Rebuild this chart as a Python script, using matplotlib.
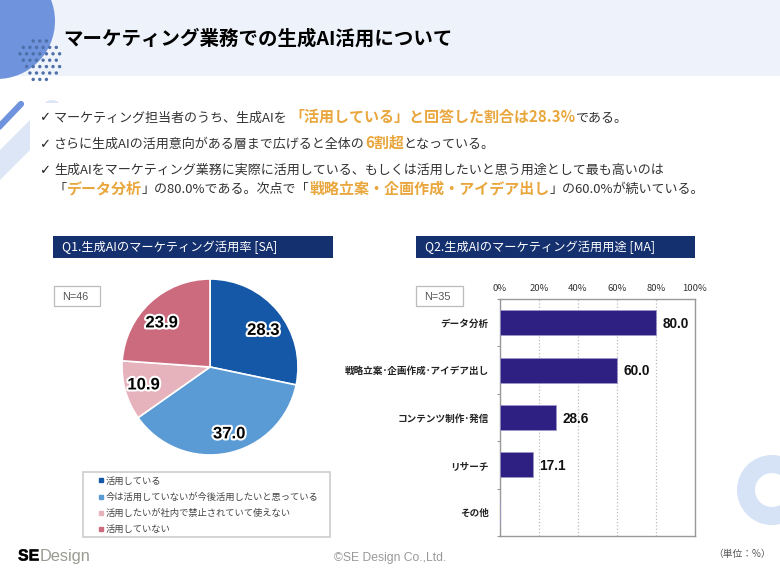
import matplotlib
matplotlib.use("Agg")
import matplotlib.pyplot as plt
import matplotlib.patheffects as pe
from matplotlib.lines import Line2D
from matplotlib.patches import Circle, Polygon, Rectangle, Wedge
import numpy as np

plt.rcParams['font.family'] = ['Noto Sans CJK JP', 'DejaVu Sans']

W, H = 780, 585
ORANGE = "#E9A63C"
TEXT = "#333333"
NAVY = "#14306F"

# pie data
pie_labels = ["活用している", "今は活用していないが今後活用したいと思っている",
              "活用したいが社内で禁止されていて使えない", "活用していない"]
pie_values = [28.3, 37.0, 10.9, 23.9]
pie_colors = ["#1558A8", "#5B9BD5", "#E6B3BC", "#CC6B7E"]

# bar data
bar_labels = ["データ分析", "戦略立案･企画作成･アイデア出し", "コンテンツ制作･発信", "リサーチ", "その他"]
bar_values = [80.0, 60.0, 28.6, 17.1, 0]
bar_ticks = [0, 20, 40, 60, 80, 100]

# bullet lines as (text, highlighted)
line1 = [("マーケティング担当者のうち、生成AIを ", False),
         ("「活用している」と回答した割合は28.3%", True), ("である。", False)]
line2 = [("さらに生成AIの活用意向がある層まで広げると全体の", False),
         ("6割超", True), ("となっている。", False)]
line3 = [("生成AIをマーケティング業務に実際に活用している、もしくは活用したいと思う用途として最も高いのは", False)]
line4 = [("「", False), ("データ分析", True), ("」の80.0%である。次点で「", False),
         ("戦略立案・企画作成・アイデア出し", True), ("」の60.0%が続いている。", False)]

fig = plt.figure(figsize=(W / 100, H / 100), dpi=100)

# page layer in pixel coordinates
bg = fig.add_axes([0, 0, 1, 1], zorder=0)
bg.set_xlim(0, W)
bg.set_ylim(H, 0)
bg.axis("off")


def px_axes(x0, y0, x1, y1):
    return fig.add_axes([x0 / W, 1 - y1 / H, (x1 - x0) / W, (y1 - y0) / H], zorder=2)


# header and decorations
bg.add_patch(Rectangle((0, 0), W, 76, color="#EEF3FB", lw=0))
bg.add_patch(Circle((-3, 21), 58, color="#6F93DC", lw=0))
for row, y in enumerate(np.arange(41, 82, 6.4)):
    for x in np.arange(20 + 3.3 * (row % 2), 62, 6.6):
        if np.hypot(x - 40, y - 60) < 21:
            bg.add_patch(Circle((x, y), 1.7, color="#4F6FA8", lw=0))
bg.plot([21, -2], [104, 128], color="#6F93DC", lw=4.5, solid_capstyle="round")
bg.add_patch(Polygon([(30, 120), (30, 150), (-2, 182), (-2, 152)], color="#DDE6F6", lw=0))
bg.add_patch(Wedge((52, 110), 10, 180, 360, color="#DDE6F6", lw=0))
bg.add_patch(Rectangle((30, 103), 50, 12, color="white", lw=0))
bg.add_patch(Wedge((772, 490), 35, 0, 360, width=18, color="#D6E2F6", lw=0))

bg.text(63, 38.5, "マーケティング業務での生成AI活用について", fontsize=14, fontweight="bold",
        color="black", va="center")


def draw_runs(x, y, runs):
    # lay out mixed text pieces one after the other
    rend = fig.canvas.get_renderer()
    for s, hi in runs:
        t = bg.text(x, y, s, va="baseline", color=ORANGE if hi else TEXT,
                    fontsize=10.8 if hi else 9.4, fontweight="bold" if hi else "normal")
        x += t.get_window_extent(rend).width


for yy in [121, 148, 174]:
    bg.text(39, yy, "✓", family="DejaVu Sans", fontweight="bold", fontsize=9.5, color="#222222", va="baseline")
draw_runs(54, 122, line1)
draw_runs(54, 148, line2)
draw_runs(54, 174, line3)
draw_runs(54, 193, line4)

# section titles
bg.add_patch(Rectangle((53, 236), 280, 22, color=NAVY, lw=0))
bg.text(62, 247, "Q1.生成AIのマーケティング活用率 [SA]", color="white", fontsize=8.8, va="center")
bg.add_patch(Rectangle((416, 236), 279, 22, color=NAVY, lw=0))
bg.text(425, 247, "Q2.生成AIのマーケティング活用用途 [MA]", color="white", fontsize=8.8, va="center")

# N boxes
for x0, wd, label in [(54, 46, "N=46"), (416, 47, "N=35")]:
    bg.add_patch(Rectangle((x0, 286), wd, 20, fc="white", ec="#BBBBBB", lw=0.9))
    bg.text(x0 + 8, 296.5, label, family="Liberation Sans", color="#555555", fontsize=7.8, va="center")

# pie chart
ax1 = px_axes(122, 279, 298, 455)
wedges, _ = ax1.pie(pie_values, colors=pie_colors, startangle=90, counterclock=False, radius=1,
                    wedgeprops={"edgecolor": "white", "linewidth": 1.2})
ax1.set_xlim(-1, 1)
ax1.set_ylim(-1, 1)
# hand placed label shifts, in points
label_nudge = [(1, -4), (4, -1), (-1.5, 0), (-2, -3.5)]
for w, v, n in zip(wedges, pie_values, label_nudge):
    ang = np.deg2rad((w.theta1 + w.theta2) / 2)
    ax1.annotate(f"{v:.1f}", (0.76 * np.cos(ang), 0.76 * np.sin(ang)), xytext=n, textcoords="offset points",
                 ha="center", va="center", family="Liberation Sans", fontweight="bold", fontsize=12,
                 color="black", path_effects=[pe.withStroke(linewidth=3, foreground="white")])

# pie legend
bg.add_patch(Rectangle((83, 472), 247, 65, fc="white", ec="#CCCCCC", lw=1.2))
handles = [Line2D([], [], ls="", marker="s", ms=2.6, color=c) for c in pie_colors]
fig.legend(handles, pie_labels, loc="upper left", bbox_to_anchor=(91 / W, 1 - 469 / H), frameon=False,
           fontsize=6.7, labelspacing=0.76, handlelength=0.5, handletextpad=0.25, borderpad=0.3,
           labelcolor="#444444")

# bar chart
ax2 = px_axes(500, 299, 695, 536)
y = np.arange(len(bar_values))
ax2.barh(y, bar_values, height=0.53, color="#2E2083", edgecolor="#9C98C8", linewidth=0.5, zorder=3)
ax2.set_xlim(0, 100)
ax2.set_ylim(len(bar_values) - 0.5, -0.5)
ax2.set_xticks(bar_ticks)
ax2.set_xticklabels([f"{t}%" for t in bar_ticks], fontsize=6.8, color="#333333")
ax2.xaxis.tick_top()
ax2.tick_params(axis="x", length=0, pad=4)
ax2.set_yticks(y)
ax2.set_yticklabels(bar_labels, fontsize=6.9, fontweight="bold", color="#222222")
ax2.tick_params(axis="y", which="major", length=0, pad=8)
ax2.set_yticks(np.arange(len(bar_values) + 1) - 0.5, minor=True)
ax2.tick_params(axis="y", which="minor", length=2.5, color="#999999", width=0.8)
ax2.grid(axis="x", color="#BBBBBB", ls=":", lw=0.9, zorder=0)
for s in ax2.spines.values():
    s.set_color("#999999")
    s.set_linewidth(1)
for yy, v in zip(y, bar_values):
    if v > 0:
        ax2.annotate(f"{v:.1f}", (v, yy), xytext=(4.5, -1), textcoords="offset points", va="center",
                     family="Liberation Sans", fontweight="bold", fontsize=9.8, color="#111111")

# footer
bg.text(18, 556, "SE", family="Liberation Sans", fontweight="bold", fontsize=11.5, color="black", va="center",
        path_effects=[pe.withStroke(linewidth=0.3, foreground="black")])
bg.text(39.5, 556, "Design", family="Liberation Sans", fontsize=11.8, color="#9A9A92", va="center")
bg.text(334, 558, "©SE Design Co.,Ltd.", family="Liberation Sans", fontsize=8.7, color="#999999", va="center")
bg.text(713, 554, "（単位：%）", fontsize=7, color="#555555", va="center")

fig.savefig("out.png", dpi=100)
